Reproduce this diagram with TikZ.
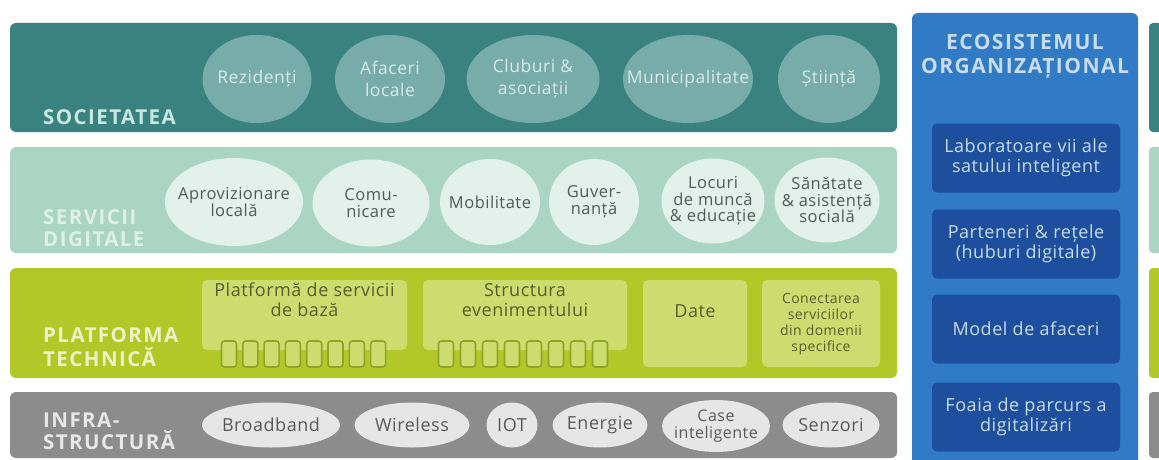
\documentclass[tikz,border=0pt]{standalone}
\usepackage{fontspec}
\setmainfont[LetterSpace=3]{Open Sans}
\newfontfamily\labfont[LetterSpace=7]{Open Sans}
\usetikzlibrary{shapes.geometric}
\definecolor{socband}{RGB}{58,130,128}
\definecolor{socell}{RGB}{120,172,170}
\definecolor{soctext}{RGB}{215,235,232}
\definecolor{soclab}{RGB}{200,232,225}
\definecolor{digband}{RGB}{170,212,196}
\definecolor{digell}{RGB}{226,241,235}
\definecolor{digtext}{RGB}{80,92,85}
\definecolor{diglab}{RGB}{222,240,233}
\definecolor{platband}{RGB}{178,200,40}
\definecolor{platbox}{RGB}{205,220,110}
\definecolor{plattext}{RGB}{85,95,40}
\definecolor{platsq}{RGB}{140,165,40}
\definecolor{platlab}{RGB}{235,242,200}
\definecolor{infband}{RGB}{140,140,140}
\definecolor{infell}{RGB}{230,230,230}
\definecolor{inftext}{RGB}{90,90,90}
\definecolor{inflab}{RGB}{232,232,232}
\definecolor{ecoband}{RGB}{48,122,198}
\definecolor{ecobox}{RGB}{30,78,158}
\definecolor{ecotext}{RGB}{200,220,245}
\newcommand\myEll[7]{%
  \node[#6, minimum width=#4pt, minimum height=#5pt] (#1) at (#2,#3) {};
  \node[#6txt] (#1t) at (#1.center) {#7};}
\tikzset{
  band/.style={rectangle, rounded corners=6pt, inner sep=0pt, draw=none, minimum width=887pt},
  lab/.style={anchor=base west, inner sep=0pt, font=\labfont\bfseries\fontsize{20.5}{22}\selectfont},
  soce/.style={ellipse, fill=socell, inner sep=0pt},
  socetxt/.style={text=soctext, align=center, inner sep=0pt, font=\fontsize{17.5}{22}\selectfont},
  dige/.style={ellipse, fill=digell, inner sep=0pt},
  digetxt/.style={text=digtext, align=center, inner sep=0pt, font=\fontsize{16.5}{16.5}\selectfont},
  infe/.style={ellipse, fill=infell, inner sep=0pt},
  infetxt/.style={text=inftext, align=center, inner sep=0pt, font=\fontsize{18}{17}\selectfont},
  pbox/.style={rectangle, rounded corners=5pt, fill=platbox, inner sep=0pt},
  ptxt/.style={text=plattext, align=center, inner sep=0pt, font=\fontsize{18}{20}\selectfont},
  psq/.style={rectangle, rounded corners=3pt, fill=platbox, draw=platsq, line width=1.6pt, minimum width=15pt, minimum height=26pt, inner sep=0pt},
  ebox/.style={rectangle, rounded corners=5pt, fill=ecobox, inner sep=0pt, minimum width=188pt, minimum height=69pt},
  etxt/.style={text=ecotext, align=center, inner sep=0pt, font=\fontsize{18}{20}\selectfont},
}
\begin{document}
\begin{tikzpicture}[x=1pt,y=-1pt]
\clip (0,0) rectangle (1159,460);
\fill[white] (0,0) rectangle (1159,460);
% bands
\node[band, fill=socband, minimum height=109pt] (soc) at (453.5,77.5) {};
\node[band, fill=digband, minimum height=106pt] (dig) at (453.5,200) {};
\node[band, fill=platband, minimum height=110pt] (plat) at (453.5,323) {};
\node[band, fill=infband, minimum height=66pt] (inf) at (453.5,425) {};
% right slivers
\fill[socband, rounded corners=4pt] (1149,23) rectangle (1175,132);
\fill[digband, rounded corners=4pt] (1149,147) rectangle (1175,253);
\fill[platband, rounded corners=4pt] (1149,268) rectangle (1175,378);
\fill[infband, rounded corners=4pt] (1149,392) rectangle (1175,458);
% labels
\node[lab, text=soclab] (l1) at (43,124) {SOCIETATEA};
\node[lab, text=diglab] (l2a) at (43,224) {SERVICII};
\node[lab, text=diglab] (l2b) at (43,246) {DIGITALE};
\node[lab, text=platlab] (l3a) at (43,342) {PLATFORMA};
\node[lab, text=platlab] (l3b) at (43,366) {TECHNICĂ};
\node[lab, text=inflab] (l4a) at (43,427) {INFRA-};
\node[lab, text=inflab] (l4b) at (43,449) {STRUCTURĂ};
% societatea
\myEll{s1}{257}{79}{109}{88}{soce}{Rezidenți}
\myEll{s2}{390}{79}{110}{88}{soce}{Afaceri\\locale}
\myEll{s3}{533}{79}{133}{88}{soce}{Cluburi \&\\asociații}
\myEll{s4}{688}{79}{130}{88}{soce}{Municipalitate}
\myEll{s5}{829}{79}{102}{88}{soce}{Știință}
% servicii digitale
\myEll{d1}{234}{202}{138}{88}{dige}{Aprovizionare\\locală}
\myEll{d2}{371}{203}{117}{87}{dige}{Comu-\\nicare}
\myEll{d3}{490}{202}{100}{86}{dige}{Mobilitate}
\myEll{d4}{594}{202}{90}{86}{dige}{Guver-\\nanță}
\myEll{d5}{713}{201}{103}{85}{dige}{Locuri\\de muncă\\\& educație}
\myEll{d6}{827}{200}{105}{85}{dige}{Sănătate\\\& asistență\\socială}
% platforma
\node[pbox, minimum width=205pt, minimum height=70pt] (p1) at (304.5,315) {};
\node[ptxt] (p1t) at (304.5,300) {Platformă de servicii\\de bază};
\node[pbox, minimum width=204pt, minimum height=70pt] (p2) at (525,315) {};
\node[ptxt] (p2t) at (525,300) {Structura\\evenimentului};
\node[pbox, minimum width=104pt, minimum height=87pt] (p3) at (695,323.5) {};
\node[ptxt] (p3t) at (695,311) {Date};
\node[pbox, minimum width=118pt, minimum height=87pt] (p4) at (821,323.5) {};
\node[ptxt, font=\fontsize{14}{16}\selectfont] (p4t) at (821,324) {Conectarea\\serviciilor\\din domenii\\specifice};
\foreach \i in {0,...,7} {
  \node[psq] (qa\i) at (229+\i*21.3,354) {};
  \node[psq] (qb\i) at (446+\i*22,354) {};
}
% infrastructura
\myEll{i1}{271}{425}{138}{45}{infe}{Broadband}
\myEll{i2}{412}{425}{115}{45}{infe}{Wireless}
\myEll{i3}{512}{425}{51}{45}{infe}{IOT}
\myEll{i4}{600}{425}{95}{45}{infe}{Energie}
\myEll{i5}{716}{426}{108}{52}{infe}{\fontsize{16}{16}\selectfont Case\\\fontsize{16}{16}\selectfont inteligente}
\myEll{i6}{831}{425}{97}{45}{infe}{Senzori}
% ecosistem
\fill[ecoband, rounded corners=6pt] (912,13) rectangle (1138,480);
\node[inner sep=0pt, text=ecotext, align=center, font=\labfont\bfseries\fontsize{21}{24}\selectfont] (et) at (1025,56) {ECOSISTEMUL\\ORGANIZAȚIONAL};
\node[ebox] (e1) at (1026,158) {};
\node[etxt] (e1t) at (e1.center) {Laboratoare vii ale\\satului inteligent};
\node[ebox] (e2) at (1026,244) {};
\node[etxt] (e2t) at (e2.center) {Parteneri \& rețele\\(huburi digitale)};
\node[ebox] (e3) at (1026,329) {};
\node[etxt] (e3t) at (e3.center) {Model de afaceri};
\node[ebox] (e4) at (1026,417) {};
\node[etxt] (e4t) at (e4.center) {Foaia de parcurs a\\digitalizări};
\end{tikzpicture}
\end{document}
